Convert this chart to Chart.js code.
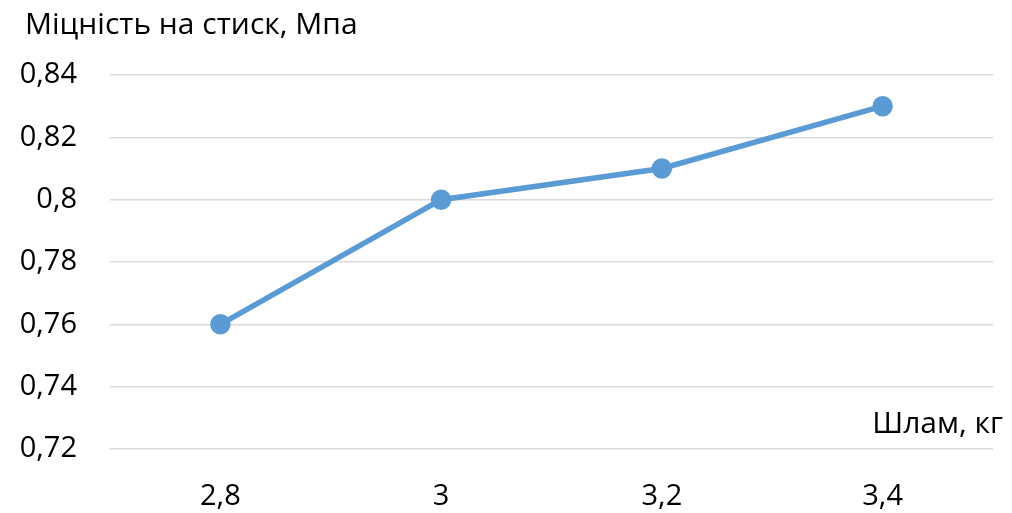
<!DOCTYPE html>
<html>
<head>
<meta charset="utf-8">
<script src="https://cdn.jsdelivr.net/npm/chart.js@4"></script>
<style>
  body { margin: 0; background: #fff; }
  #wrap { width: 1012px; height: 513px; }
</style>
</head>
<body>
<div id="wrap"><canvas id="myChart" width="1012" height="513"></canvas></div>
<script>
var categories = ['2,8', '3', '3,2', '3,4'];
var strengthValues = [0.76, 0.80, 0.81, 0.83];
var yTitle = 'Міцність на стиск, Мпа';
var xTitle = 'Шлам, кг';

var fontFamily = '"Open Sans", "Noto Sans", sans-serif';

// axis captions drawn at the corners like the original
var captions = {
    id: 'captions',
    afterDraw: function (chart) {
        var ctx = chart.ctx;
        var area = chart.chartArea;
        ctx.save();
        ctx.fillStyle = '#000';
        ctx.font = '30px ' + fontFamily;
        ctx.textBaseline = 'alphabetic';
        ctx.textAlign = 'left';
        ctx.fillText(yTitle, 25, 34);
        ctx.textAlign = 'right';
        ctx.fillText(xTitle, area.right + 10, area.bottom - 16);
        ctx.restore();
    }
};

var ctx = document.getElementById('myChart').getContext('2d');

new Chart(ctx, {
    type: 'line',
    data: {
        labels: categories,
        datasets: [{
            data: strengthValues,
            borderColor: '#5b9bd5',
            backgroundColor: '#5b9bd5',
            borderWidth: 5.5,
            pointRadius: 7.5,
            pointHoverRadius: 7.5,
            tension: 0
        }]
    },
    options: {
        responsive: false,
        animation: false,
        layout: { padding: { top: 75, right: 19 } },
        plugins: {
            legend: { display: false },
            tooltip: { enabled: false }
        },
        scales: {
            x: {
                offset: true,
                grid: { display: false },
                border: { display: false },
                ticks: {
                    color: '#000',
                    font: { family: fontFamily, size: 29 },
                    padding: 22
                },
                afterFit: function (scale) { scale.height = 64; }
            },
            y: {
                min: 0.72,
                max: 0.84,
                grid: { color: '#d9d9d9', lineWidth: 1.5, drawTicks: false },
                border: { display: false },
                ticks: {
                    stepSize: 0.02,
                    color: '#000',
                    font: { family: fontFamily, size: 29 },
                    padding: 33,
                    callback: function (v) {
                        return String(Number(v.toFixed(2))).replace('.', ',');
                    }
                },
                afterFit: function (scale) { scale.width = 110; }
            }
        }
    },
    plugins: [captions]
});
</script>
</body>
</html>
